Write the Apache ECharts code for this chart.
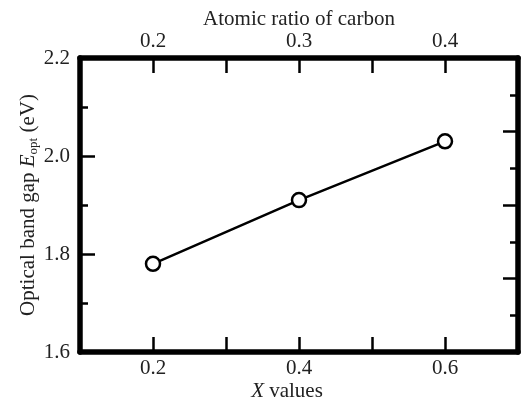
<!DOCTYPE html>
<html>
<head>
<meta charset="utf-8">
<script src="https://cdn.jsdelivr.net/npm/echarts@6/dist/echarts.min.js"></script>
<style>html,body{margin:0;padding:0;background:#fff}#c{width:526px;height:403px}</style>
</head>
<body>
<div id="c"></div>
<script>
const xValues = [0.2, 0.4, 0.6];
const bandGap = [1.78, 1.91, 2.03];
const bottomTickLabels = [0.2, 0.4, 0.6];
const topTickLabels = [0.2, 0.3, 0.4];
const leftTickLabels = [1.6, 1.8, 2.0, 2.2];

const FONT = 'Liberation Serif';
const fs = 21;
function pick(list, digits) {
  return function (v) {
    for (const t of list) if (Math.abs(v - t) < 1e-6) return t.toFixed(digits);
    return '';
  };
}
const lineW = 5.5;
const tickStyle = { color: '#000', width: 2.5 };

const chart = echarts.init(document.getElementById('c'), null, { renderer: 'canvas' });
chart.setOption({
  animation: false,
  backgroundColor: '#fff',
  grid: { left: 80, right: 8, top: 58, bottom: 51, containLabel: false, outerBoundsMode: 'none' },
  xAxis: [
    {
      type: 'value', position: 'bottom', min: 0.1, max: 0.7, interval: 0.1,
      axisLine: { show: true, lineStyle: { color: '#000', width: lineW } },
      axisTick: { show: true, inside: true, length: 15, lineStyle: tickStyle },
      splitLine: { show: false },
      axisLabel: { formatter: pick(bottomTickLabels, 1), color: '#222', fontFamily: FONT, fontSize: fs, margin: 6 },
      name: '{i|X}{n| values}', nameLocation: 'middle', nameGap: 29, nameMoveOverlap: false,
      nameTextStyle: { padding: [0, 24, 0, 0], rich: { i: { fontFamily: FONT, fontSize: fs, fontStyle: 'italic', color: '#222' }, n: { fontFamily: FONT, fontSize: fs, color: '#222' } } }
    },
    {
      type: 'value', position: 'top', min: 0.15, max: 0.45, interval: 0.05,
      axisLine: { show: true, lineStyle: { color: '#000', width: lineW } },
      axisTick: { show: true, inside: true, length: 15, lineStyle: tickStyle },
      splitLine: { show: false },
      axisLabel: { formatter: pick(topTickLabels, 1), color: '#222', fontFamily: FONT, fontSize: fs, margin: 6 },
      name: 'Atomic ratio of carbon', nameLocation: 'middle', nameGap: 28, nameMoveOverlap: false,
      nameTextStyle: { fontFamily: FONT, fontSize: fs, color: '#222' }
    }
  ],
  yAxis: [
    {
      type: 'value', position: 'left', min: 1.6, max: 2.2, interval: 0.2,
      axisLine: { show: true, lineStyle: { color: '#000', width: lineW } },
      axisTick: { show: true, inside: true, length: 15, lineStyle: tickStyle },
      minorTick: { show: true, splitNumber: 2, length: 8, lineStyle: tickStyle },
      splitLine: { show: false }, minorSplitLine: { show: false },
      axisLabel: { formatter: pick(leftTickLabels, 1), color: '#222', fontFamily: FONT, fontSize: fs, margin: 10 },
      name: '{n|Optical band gap }{i|E}{s|opt}{n| (eV)}', nameLocation: 'middle', nameGap: 40, nameMoveOverlap: false,
      nameTextStyle: {
        rich: {
          n: { fontFamily: FONT, fontSize: fs, color: '#222', lineHeight: 24 },
          i: { fontFamily: FONT, fontSize: fs, fontStyle: 'italic', color: '#222', lineHeight: 24 },
          s: { fontFamily: FONT, fontSize: 13, color: '#222', lineHeight: 24, verticalAlign: 'bottom', padding: [6, 0, 0, 0] }
        }
      }
    },
    {
      type: 'value', position: 'right', min: 0, max: 8, interval: 2,
      axisLine: { show: true, lineStyle: { color: '#000', width: lineW } },
      axisTick: { show: true, inside: true, length: 15, lineStyle: tickStyle },
      minorTick: { show: true, splitNumber: 2, length: 8, lineStyle: tickStyle },
      splitLine: { show: false }, minorSplitLine: { show: false },
      axisLabel: { show: false }
    }
  ],
  series: [{
    type: 'line', xAxisIndex: 0, yAxisIndex: 0,
    data: xValues.map((x, i) => [x, bandGap[i]]),
    lineStyle: { color: '#000', width: 2.5 },
    symbol: 'circle', symbolSize: 14,
    itemStyle: { color: '#fff', borderColor: '#000', borderWidth: 2.5 },
    z: 5
  }]
});
</script>
</body>
</html>
